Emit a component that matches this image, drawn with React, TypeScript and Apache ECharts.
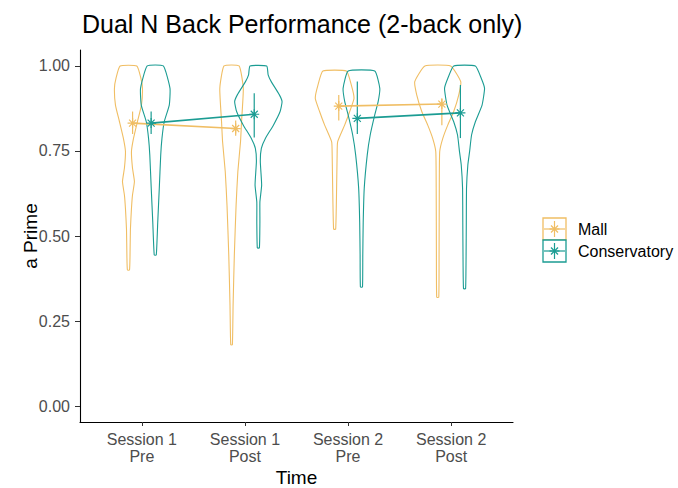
import React, { useEffect, useRef } from "react";
import * as echarts from "echarts";

const categories = ["Session 1\nPre", "Session 1\nPost", "Session 2\nPre", "Session 2\nPost"];
const yTicks = [0, 0.25, 0.5, 0.75, 1];
const groupNames = ["Mall", "Conservatory"];

const mallMeans = [0.832, 0.816, 0.882, 0.888];
const consMeans = [0.832, 0.858, 0.846, 0.862];
const mallLow = [0.8, 0.795, 0.84, 0.826];
const mallHigh = [0.866, 0.84, 0.915, 0.905];
const consLow = [0.8, 0.79, 0.8, 0.788];
const consHigh = [0.866, 0.92, 0.954, 0.944];

// violin outlines: [value, half width in category units]
const mallViolins = [
  [[1.0, 0.081], [0.965, 0.12], [0.934, 0.136], [0.885, 0.126], [0.836, 0.087], [0.787, 0.049], [0.748, 0.029], [0.7, 0.039], [0.66, 0.058], [0.62, 0.039], [0.58, 0.029], [0.52, 0.019], [0.44, 0.015], [0.4, 0.01]],
  [[1.0, 0.073], [0.934, 0.114], [0.836, 0.097], [0.777, 0.087], [0.689, 0.061], [0.59, 0.044], [0.444, 0.027], [0.297, 0.015], [0.18, 0.008]],
  [[0.985, 0.114], [0.944, 0.162], [0.905, 0.188], [0.866, 0.146], [0.826, 0.097], [0.777, 0.029], [0.738, 0.024], [0.64, 0.019], [0.52, 0.01]],
  [[1.0, 0.125], [0.954, 0.223], [0.915, 0.204], [0.866, 0.155], [0.826, 0.097], [0.787, 0.049], [0.748, 0.019], [0.64, 0.015], [0.444, 0.013], [0.32, 0.01]],
];
const consViolins = [
  [[1.0, 0.078], [0.934, 0.143], [0.885, 0.136], [0.836, 0.087], [0.787, 0.065], [0.738, 0.053], [0.64, 0.039], [0.54, 0.024], [0.444, 0.01]],
  [[1.0, 0.081], [0.974, 0.095], [0.954, 0.125], [0.915, 0.204], [0.895, 0.23], [0.866, 0.211], [0.826, 0.146], [0.787, 0.068], [0.758, 0.029], [0.719, 0.019], [0.65, 0.032], [0.6, 0.015], [0.54, 0.015], [0.465, 0.01]],
  [[0.985, 0.129], [0.934, 0.178], [0.895, 0.162], [0.856, 0.129], [0.797, 0.085], [0.738, 0.056], [0.64, 0.027], [0.54, 0.017], [0.444, 0.013], [0.35, 0.01]],
  [[1.0, 0.105], [0.964, 0.162], [0.934, 0.194], [0.885, 0.17], [0.836, 0.105], [0.797, 0.068], [0.748, 0.049], [0.709, 0.032], [0.64, 0.019], [0.54, 0.017], [0.444, 0.015], [0.345, 0.01]],
];

const COLORS = ["#F0BE64", "#1B9C93"];
const VIOLIN_OFFSET = [-0.13, 0.13];
const MEAN_OFFSET = [-0.09, 0.09];
const FONT = "'Liberation Sans', Arial, Helvetica, sans-serif";
const STAR = "path://M0,-10L0,10M-10,0L10,0M-7,-7L7,7M-7,7L7,-7";

export default function App() {
  const ref = useRef<HTMLDivElement>(null);
  useEffect(() => {
    document.body.style.margin = "0";
    const chart = echarts.init(ref.current!, null, { renderer: "svg" });
    const profiles = [mallViolins, consViolins];
    const means = [mallMeans, consMeans];
    const lows = [mallLow, consLow];
    const highs = [mallHigh, consHigh];

    const violinSeries = [0, 1].map((g) => ({
      type: "custom",
      name: groupNames[g],
      z: 2 + g,
      data: categories.map((_, i) => [i + 1, means[g][i]]),
      encode: { x: 0, y: 1 },
      renderItem: (params: any, api: any) => {
        const cat = api.value(0);
        const prof = profiles[g][cat - 1];
        const c = cat + VIOLIN_OFFSET[g];
        const right = prof.map(([v, w]: number[]) => api.coord([c + w, v]));
        const left = prof.slice().reverse().map(([v, w]: number[]) => api.coord([c - w, v]));
        return {
          type: "polygon",
          shape: { points: right.concat(left), smooth: 0.15 },
          style: { fill: "none", stroke: COLORS[g], lineWidth: 1.1 },
        };
      },
    }));

    const errSeries = [0, 1].map((g) => ({
      type: "custom",
      z: 4 + g,
      data: categories.map((_, i) => [i + 1 + MEAN_OFFSET[g], lows[g][i], highs[g][i]]),
      encode: { x: 0, y: [1, 2] },
      renderItem: (params: any, api: any) => {
        const p1 = api.coord([api.value(0), api.value(1)]);
        const p2 = api.coord([api.value(0), api.value(2)]);
        return {
          type: "line",
          shape: { x1: p1[0], y1: p1[1], x2: p2[0], y2: p2[1] },
          style: { stroke: COLORS[g], lineWidth: 1.2 },
        };
      },
    }));

    const lineSeries: any[] = [];
    [0, 1].forEach((g) => {
      [0, 2].forEach((s) => {
        lineSeries.push({
          type: "line",
          z: 6 + g,
          data: [
            [s + 1 + MEAN_OFFSET[g], means[g][s]],
            [s + 2 + MEAN_OFFSET[g], means[g][s + 1]],
          ],
          symbol: STAR,
          symbolSize: 10,
          symbolKeepAspect: true,
          lineStyle: { color: COLORS[g], width: 1.6 },
          itemStyle: { color: COLORS[g], borderColor: COLORS[g], borderWidth: 1.2 },
        });
      });
    });

    const legendItems: any[] = [];
    [0, 1].forEach((g) => {
      const x = 543;
      const y = 218 + g * 22;
      const cx = x + 11.5;
      const cy = y + 11;
      const st = { stroke: COLORS[g], lineWidth: 1.2 };
      legendItems.push(
        { type: "rect", shape: { x, y, width: 23, height: 22 }, style: { fill: "#fff", stroke: COLORS[g], lineWidth: 1.3 } },
        { type: "line", shape: { x1: x + 1, y1: cy, x2: x + 22, y2: cy }, style: st },
        { type: "line", shape: { x1: cx, y1: y + 3, x2: cx, y2: y + 19 }, style: st },
        { type: "line", shape: { x1: cx - 5, y1: cy, x2: cx + 5, y2: cy }, style: st },
        { type: "line", shape: { x1: cx - 3.5, y1: cy - 3.5, x2: cx + 3.5, y2: cy + 3.5 }, style: st },
        { type: "line", shape: { x1: cx - 3.5, y1: cy + 3.5, x2: cx + 3.5, y2: cy - 3.5 }, style: st },
        {
          type: "text",
          x: 578,
          y: cy,
          style: { text: groupNames[g], fontSize: 16, fontFamily: FONT, fill: "#000", verticalAlign: "middle", align: "left" },
        }
      );
    });

    chart.setOption({
      animation: false,
      backgroundColor: "#fff",
      textStyle: { fontFamily: FONT },
      title: {
        text: "Dual N Back Performance (2-back only)",
        left: 82,
        top: 11,
        padding: 0,
        textStyle: { fontSize: 25, fontWeight: "normal", color: "#000", fontFamily: FONT },
      },
      grid: { left: 80, right: 165, top: 50, bottom: 66, containLabel: false, outerBoundsMode: "none" },
      xAxis: {
        type: "value",
        min: 0.4,
        max: 4.6,
        name: "Time",
        nameLocation: "middle",
        nameGap: 46,
        nameMoveOverlap: false,
        nameTextStyle: { fontSize: 19, color: "#000", fontFamily: FONT },
        axisLine: { show: true, onZero: false, lineStyle: { color: "#000", width: 1.1 } },
        axisTick: { show: true, customValues: [1, 2, 3, 4], length: 4, lineStyle: { color: "#333" } },
        axisLabel: {
          customValues: [1, 2, 3, 4],
          formatter: (v: number) => categories[Math.round(v) - 1] ?? "",
          fontSize: 16,
          lineHeight: 17,
          color: "#4D4D4D",
          margin: 8.5,
          fontFamily: FONT,
        },
        splitLine: { show: false },
      },
      yAxis: {
        type: "value",
        min: -0.047,
        max: 1.047,
        name: "a Prime",
        nameLocation: "middle",
        nameGap: 40,
        nameMoveOverlap: false,
        nameTextStyle: { fontSize: 19, color: "#000", fontFamily: FONT },
        axisLine: { show: true, onZero: false, lineStyle: { color: "#000", width: 1.1 } },
        axisTick: { show: true, customValues: yTicks, length: 5, lineStyle: { color: "#333" } },
        axisLabel: {
          customValues: yTicks,
          formatter: (v: number) => v.toFixed(2),
          fontSize: 16,
          color: "#4D4D4D",
          margin: 10,
          fontFamily: FONT,
        },
        splitLine: { show: false },
      },
      graphic: legendItems,
      series: [...violinSeries, ...errSeries, ...lineSeries],
    });
    return () => chart.dispose();
  }, []);
  return <div ref={ref} style={{ position: "absolute", left: 0, top: 0, width: "678px", height: "488px" }} />;
}
